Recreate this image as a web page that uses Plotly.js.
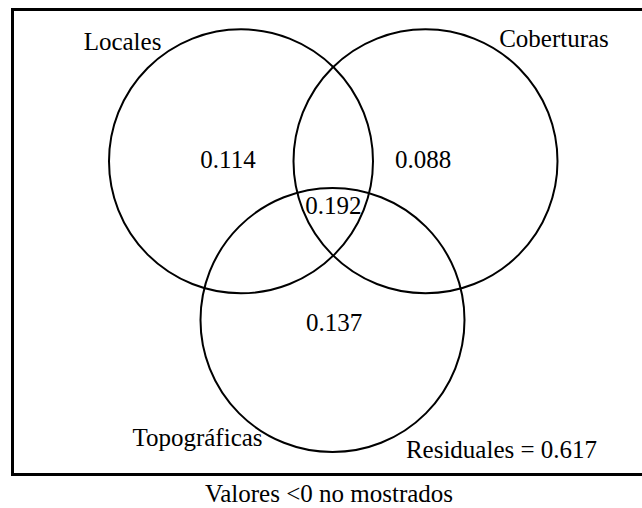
<!DOCTYPE html>
<html>
<head>
<meta charset="utf-8">
<script src="https://cdn.plot.ly/plotly-3.0.1.min.js"></script>
<style>html,body{margin:0;padding:0;background:#fff;}#chart{width:642px;height:508px;}</style>
</head>
<body>
<div id="chart"></div>
<script>
// Data
var setNames = ['Locales', 'Coberturas', 'Topográficas'];
var fractionLabels = ['Locales', 'Coberturas', 'Topográficas', 'Locales+Coberturas+Topográficas'];
var fractionValues = [0.114, 0.088, 0.137, 0.192];
var residualValue = 0.617;
var footnote = 'Valores <0 no mostrados';

// Layout geometry (pixel-like coordinates, y downward)
var R = 132;
var centers = [[241, 161.3], [425.5, 161.3], [332.5, 320]];
var dy = 2;
var namePos = [[122.5, 41.7 + dy], [554, 38.3 + dy], [197.5, 437.3 + dy]];
var fracPos = [[228, 159.5 + dy], [423, 159.5 + dy], [334, 322.7 + dy], [333.3, 205.3 + dy]];
var residPos = [501.5, 449.5 + dy];
var footPos = [329, 493.7 + dy];

var font = {family: 'Liberation Serif', size: 25, color: '#000'};

var traces = [
  {
    type: 'scatter', mode: 'text',
    x: namePos.map(function(p){return p[0];}),
    y: namePos.map(function(p){return p[1];}),
    text: setNames, textposition: 'middle center', textfont: font,
    hoverinfo: 'skip', showlegend: false, cliponaxis: false
  },
  {
    type: 'scatter', mode: 'text',
    x: fracPos.map(function(p){return p[0];}),
    y: fracPos.map(function(p){return p[1];}),
    text: fractionValues.map(function(v){return v.toFixed(3);}),
    customdata: fractionLabels,
    textposition: 'middle center', textfont: font,
    hoverinfo: 'skip', showlegend: false, cliponaxis: false
  },
  {
    type: 'scatter', mode: 'text',
    x: [residPos[0], footPos[0]],
    y: [residPos[1], footPos[1]],
    text: ['Residuales = ' + residualValue.toFixed(3), footnote],
    textposition: 'middle center', textfont: font,
    hoverinfo: 'skip', showlegend: false, cliponaxis: false
  }
];

var shapes = [
  {type: 'rect', xref: 'x', yref: 'y', x0: 12.5, x1: 700, y0: 9.5, y1: 474.5,
   line: {color: '#000', width: 3}, fillcolor: 'rgba(0,0,0,0)'}
];
centers.forEach(function(c){
  shapes.push({type: 'circle', xref: 'x', yref: 'y',
    x0: c[0] - R, x1: c[0] + R, y0: c[1] - R, y1: c[1] + R,
    line: {color: '#000', width: 2}, fillcolor: 'rgba(0,0,0,0)'});
});

var layout = {
  width: 642, height: 508,
  margin: {l: 0, r: 0, t: 0, b: 0, pad: 0},
  paper_bgcolor: '#fff', plot_bgcolor: '#fff',
  xaxis: {range: [0, 642], visible: false, fixedrange: true},
  yaxis: {range: [508, 0], visible: false, fixedrange: true},
  shapes: shapes,
  showlegend: false
};

Plotly.newPlot('chart', traces, layout, {staticPlot: true, displayModeBar: false});
</script>
</body>
</html>
